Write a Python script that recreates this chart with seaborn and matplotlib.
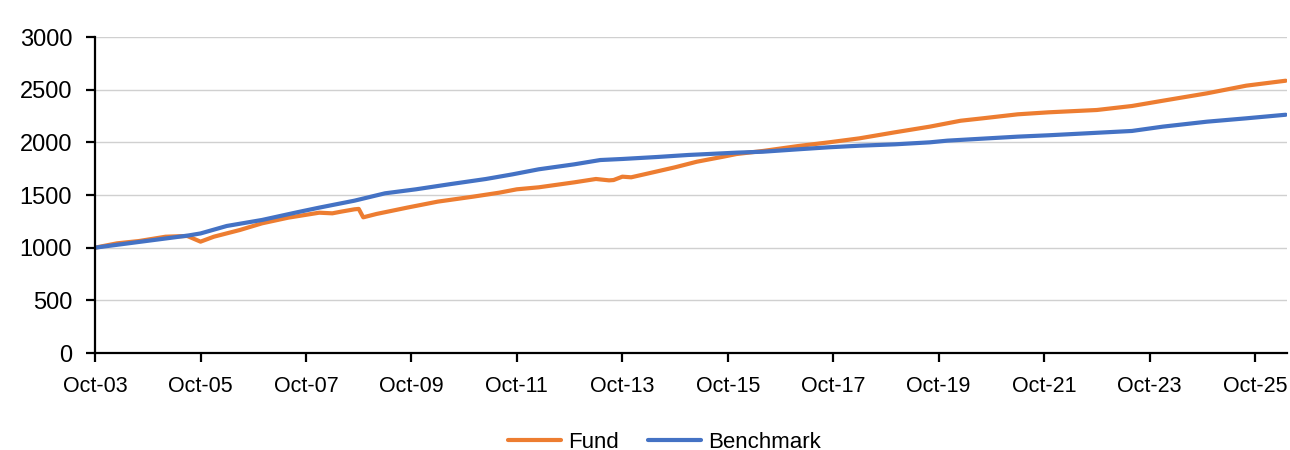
import matplotlib
matplotlib.use("Agg")
import matplotlib.pyplot as plt
import matplotlib.dates as mdates
from matplotlib.lines import Line2D
import seaborn as sns
import pandas as pd

fund_dates = ["2003-10", "2004-03", "2004-08", "2005-02", "2005-07", "2005-10", "2006-01",
              "2006-07", "2006-12", "2007-06", "2008-01", "2008-04", "2008-06", "2008-09",
              "2008-10", "2008-11", "2009-02", "2009-09", "2010-04", "2010-12", "2011-06",
              "2011-10", "2012-03", "2012-11", "2013-04", "2013-07", "2013-08", "2013-10",
              "2013-12", "2014-05", "2014-10", "2015-03", "2015-09", "2015-12", "2016-06",
              "2017-02", "2017-09", "2018-04", "2018-12", "2019-08", "2020-03", "2020-08",
              "2021-04", "2021-11", "2022-10", "2023-06", "2024-01", "2024-11", "2025-08",
              "2026-05"]
fund_values = [1000, 1041, 1063, 1104, 1111, 1057, 1104,
               1168, 1231, 1285, 1332, 1326, 1342, 1364,
               1368, 1288, 1320, 1380, 1437, 1484, 1522,
               1554, 1573, 1620, 1652, 1639, 1642, 1674,
               1668, 1715, 1763, 1816, 1864, 1889, 1918,
               1965, 2000, 2038, 2095, 2149, 2205, 2228,
               2266, 2285, 2307, 2345, 2395, 2465, 2538,
               2585]

bench_dates = ["2003-10", "2005-07", "2005-10", "2006-04", "2006-12", "2007-08", "2008-01",
               "2008-09", "2009-04", "2009-11", "2010-07", "2011-03", "2011-09", "2012-03",
               "2012-11", "2013-05", "2013-10", "2014-06", "2015-01", "2015-12", "2016-06",
               "2017-02", "2017-09", "2018-04", "2018-12", "2019-08", "2019-12", "2020-08",
               "2021-04", "2021-11", "2022-06", "2023-06", "2024-01", "2024-11", "2025-08",
               "2026-05"]
bench_values = [1000, 1114, 1135, 1206, 1263, 1336, 1380,
                1446, 1516, 1554, 1604, 1652, 1696, 1744,
                1791, 1832, 1842, 1861, 1880, 1902, 1911,
                1934, 1953, 1968, 1981, 2000, 2016, 2035,
                2054, 2067, 2082, 2108, 2149, 2196, 2228,
                2262]

tick_labels_years = list(range(2003, 2026, 2))
y_ticks = [0, 500, 1000, 1500, 2000, 2500, 3000]

df = pd.concat([
    pd.DataFrame({"date": pd.to_datetime(fund_dates), "value": fund_values, "series": "Fund"}),
    pd.DataFrame({"date": pd.to_datetime(bench_dates), "value": bench_values, "series": "Benchmark"}),
], ignore_index=True)

sns.set_theme(style="white")
plt.rcParams["font.family"] = ["Liberation Sans", "DejaVu Sans"]

fig = plt.figure(figsize=(12.9, 4.5), dpi=100)
ax = fig.add_axes([95/1290, 1-353/450, (1287-95)/1290, (353-37)/450])

sns.lineplot(data=df, x="date", y="value", hue="series",
             palette={"Fund": "#ED7D31", "Benchmark": "#4472C4"},
             linewidth=3, ax=ax, legend=False)

ax.set_xlim(pd.Timestamp("2003-10-01"), pd.Timestamp("2026-05-10"))
ax.set_ylim(0, 3000)
ax.set_yticks(y_ticks)
ax.set_xticks([pd.Timestamp(f"{y}-10-01") for y in tick_labels_years])
ax.xaxis.set_major_formatter(mdates.DateFormatter("%b-%y"))
ax.set_xlabel("")
ax.set_ylabel("")
ax.yaxis.grid(True, color="#D0D0D0", linewidth=1)
ax.xaxis.grid(False)
for s in ["top", "right"]:
    ax.spines[s].set_visible(False)
for s in ["left", "bottom"]:
    ax.spines[s].set_color("black")
    ax.spines[s].set_linewidth(1.6)
ax.tick_params(axis="both", which="major", direction="out", length=6.5, width=1.6,
               color="black", labelcolor="black", bottom=True, left=True)
ax.tick_params(axis="y", labelsize=17, pad=10)
ax.tick_params(axis="x", labelsize=15.5, pad=10)

handles = [Line2D([], [], color="#ED7D31", linewidth=3),
           Line2D([], [], color="#4472C4", linewidth=3)]
fig.legend(handles, ["Fund", "Benchmark"], loc="lower center", ncol=2,
           bbox_to_anchor=(0.515, -0.05), frameon=False, fontsize=16,
           handlelength=2.4, handletextpad=0.3, columnspacing=1.3,
           labelcolor="black")

fig.savefig("out.png", dpi=100)
